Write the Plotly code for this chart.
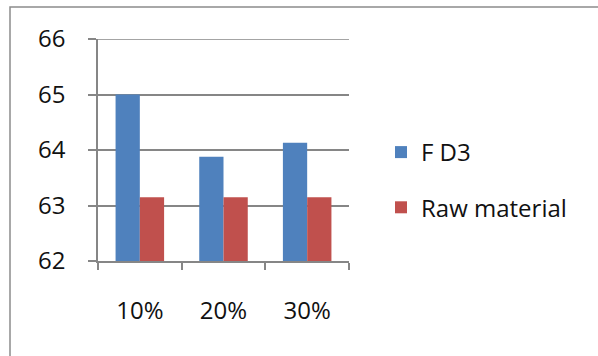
import plotly.graph_objects as go

categories = ["10%", "20%", "30%"]
fd3_values = [65.0, 63.88, 64.13]
raw_values = [63.15, 63.15, 63.15]
y_ticks = [62, 63, 64, 65, 66]

W, H = 598, 356
L, R, T, B = 98, 249, 39, 95

fig = go.Figure()
fig.add_trace(go.Bar(name="F D3", x=categories, y=fd3_values,
                     marker=dict(color="#4F81BD", line=dict(width=0)),
                     legendgroup="a"))
fig.add_trace(go.Bar(name="Raw material", x=categories, y=raw_values,
                     marker=dict(color="#C0504D", line=dict(width=0)),
                     legendgroup="b"))

grid = "#868686"
font_family = "Open Sans, Liberation Sans, Arial, sans-serif"
text_color = "#111111"

fig.update_layout(
    width=W, height=H,
    margin=dict(l=L, r=R, t=T, b=B, pad=0),
    paper_bgcolor="white", plot_bgcolor="white",
    barmode="group", bargap=0.42, bargroupgap=0,
    font=dict(family=font_family, size=24, color=text_color),
    showlegend=True,
    legend=dict(
        xref="container", yref="container",
        x=381 / W, y=1 - 130 / H, xanchor="left", yanchor="top",
        font=dict(size=24, color=text_color),
        tracegroupgap=21, bgcolor="rgba(0,0,0,0)",
    ),
    xaxis=dict(
        type="category", showgrid=False,
        showline=True, linecolor=grid, linewidth=1.5,
        ticks="outside", tickson="boundaries", ticklen=7,
        tickcolor=grid, tickwidth=1.5,
        ticklabelstandoff=27,
        tickfont=dict(size=24, color=text_color),
    ),
    yaxis=dict(
        range=[y_ticks[0], y_ticks[-1]], tickvals=y_ticks,
        showgrid=True, gridcolor=grid, gridwidth=1.5,
        showline=True, linecolor=grid, linewidth=1.5,
        ticks="outside", ticklen=8, tickcolor=grid, tickwidth=1.5,
        ticklabelstandoff=18, zeroline=False,
        tickfont=dict(size=24, color=text_color),
    ),
)

# top gridline sits on the plot edge, so draw it explicitly
fig.add_shape(type="line", xref="paper", yref="y",
              x0=0, x1=1, y0=y_ticks[-1], y1=y_ticks[-1],
              line=dict(color=grid, width=1.5), layer="below")

# chart-area frame
pw, ph = W - L - R, H - T - B
fig.add_shape(type="rect", xref="paper", yref="paper",
              x0=(10 - L) / pw, x1=(W + 5 - L) / pw,
              y0=(H - B - (H + 5)) / ph, y1=(H - B - 7) / ph,
              line=dict(color="#8c8c8c", width=1.5),
              fillcolor="rgba(0,0,0,0)", layer="below")

fig.write_html("out.html")
